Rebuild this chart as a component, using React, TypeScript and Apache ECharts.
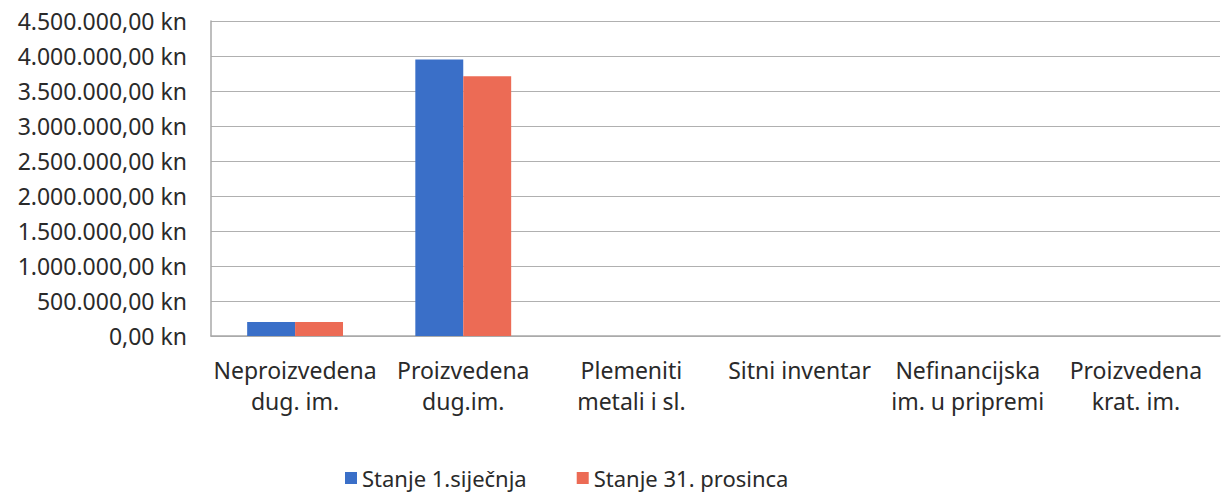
import React, { useEffect, useRef } from "react";
import * as echarts from "echarts";

const categories = [
  "Neproizvedena\ndug. im.",
  "Proizvedena\ndug.im.",
  "Plemeniti\nmetali i sl.",
  "Sitni inventar",
  "Nefinancijska\nim. u pripremi",
  "Proizvedena\nkrat. im.",
];
const seriesNames = ["Stanje 1.siječnja", "Stanje 31. prosinca"];
const stanjePocetak = [200000, 3950000, 0, 0, 0, 0];
const stanjeKraj = [200000, 3710000, 0, 0, 0, 0];
const yMin = 0;
const yMax = 4500000;
const yStep = 500000;

function formatKn(v: number): string {
  const s = Math.round(v).toString().replace(/\B(?=(\d{3})+(?!\d))/g, ".");
  return s + ",00 kn";
}

export default function App() {
  const ref = useRef<HTMLDivElement>(null);
  useEffect(() => {
    document.body.style.margin = "0";
    const chart = echarts.init(ref.current!, null, { renderer: "svg" });
    const font = "'Noto Sans', sans-serif";
    chart.setOption({
      animation: false,
      backgroundColor: "#ffffff",
      textStyle: { fontFamily: font },
      grid: { left: 211, right: 2, top: 21, bottom: 160, containLabel: false },
      legend: {
        data: seriesNames,
        left: 345,
        top: 466,
        padding: 0,
        itemWidth: 12,
        itemHeight: 12,
        itemGap: 50,
        icon: "rect",
        textStyle: { fontSize: 22, lineHeight: 24, color: "#2a2a2a", fontFamily: font },
      },
      xAxis: {
        type: "category",
        data: categories,
        axisLine: { show: true, lineStyle: { color: "#a8a8a8", width: 1.5 } },
        axisTick: { show: false },
        axisLabel: {
          fontSize: 23,
          color: "#2a2a2a",
          margin: 18,
          lineHeight: 31,
          interval: 0,
          fontFamily: font,
        },
      },
      yAxis: {
        type: "value",
        min: yMin,
        max: yMax,
        interval: yStep,
        axisLine: { show: true, lineStyle: { color: "#a8a8a8", width: 1.5 } },
        axisTick: { show: false },
        splitLine: { lineStyle: { color: "#b0b0b0", width: 1.2 } },
        axisLabel: {
          fontSize: 23,
          color: "#2a2a2a",
          margin: 24,
          formatter: (v: number) => formatKn(v),
          fontFamily: font,
        },
      },
      series: [
        {
          name: seriesNames[0],
          type: "bar",
          data: stanjePocetak,
          itemStyle: { color: "#3a6fc8" },
          barGap: "0%",
          barCategoryGap: "43%",
        },
        {
          name: seriesNames[1],
          type: "bar",
          data: stanjeKraj,
          itemStyle: { color: "#ec6b55" },
          barGap: "0%",
          barCategoryGap: "43%",
        },
      ],
    });
    return () => chart.dispose();
  }, []);
  return <div ref={ref} style={{ width: 1222, height: 496 }} />;
}
